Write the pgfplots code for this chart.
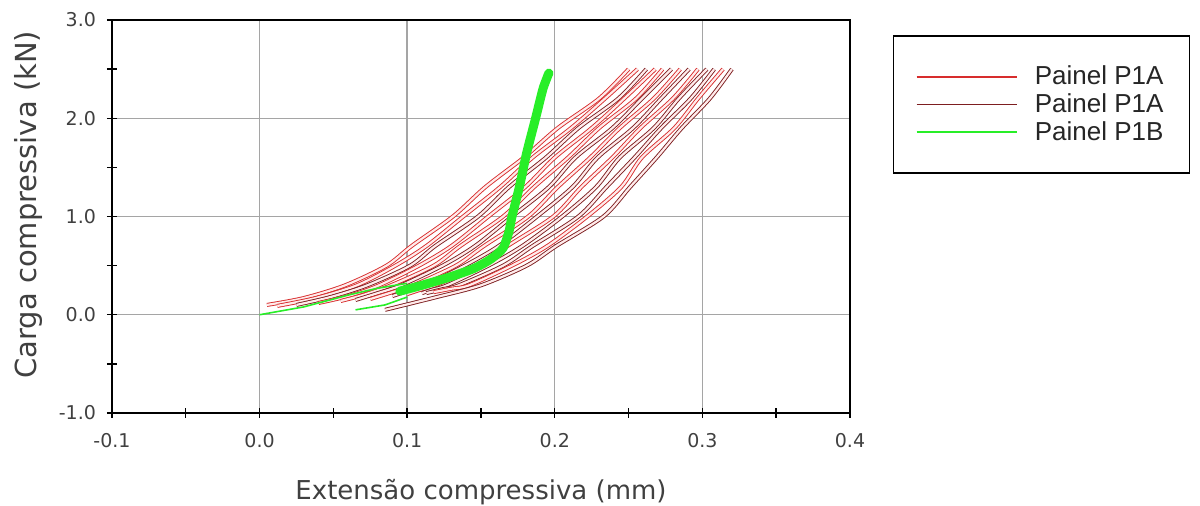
\documentclass[border=0pt]{standalone}
\usepackage{fontspec}
\setmainfont{DejaVu Sans}
\newfontfamily\arialf{Liberation Sans}
\usepackage{pgfplots}
\pgfplotsset{compat=1.18}
\definecolor{redA}{RGB}{215,45,45}
\definecolor{redB}{RGB}{125,30,32}
\definecolor{grnB}{RGB}{40,238,40}
\definecolor{gridc}{RGB}{165,165,165}
\tikzset{
  cycA/.style={draw=redA, line width=0.45pt, double=red!8, double distance=1.1pt, line join=round},
  cycB/.style={draw=redB, line width=0.45pt, double=red!8, double distance=1.1pt, line join=round},
}
\begin{document}
\begin{tikzpicture}
\useasboundingbox (-56pt,-46.5pt) rectangle (544pt,206.5pt);
\begin{axis}[
  scale only axis, width=369pt, height=196.5pt,
  xmin=-0.1, xmax=0.4, ymin=-1, ymax=3,
  xtick={-0.1,0,0.1,0.2,0.3,0.4}, ytick={-1,0,1,2,3},
  minor x tick num=1, minor y tick num=1,
  xtick pos=left, ytick pos=left,
  tick align=center, major tick length=5pt, minor tick length=5pt,
  grid=major, major grid style={gridc, line width=0.7pt},
  axis line style={black, line width=0.8pt},
  every tick/.style={black, line width=0.7pt},
  /pgf/number format/assume math mode=true,
  xticklabel style={/pgf/number format/fixed, /pgf/number format/fixed zerofill, /pgf/number format/precision=1, font=\fontsize{9.5}{11}\selectfont, text=black!75, yshift=-4pt},
  yticklabel style={/pgf/number format/fixed, /pgf/number format/fixed zerofill, /pgf/number format/precision=1, font=\fontsize{9.5}{11}\selectfont, text=black!75, xshift=-2pt},
  xlabel={Extensão compressiva (mm)},
  ylabel={Carga compressiva (kN)},
  xlabel style={at={(axis description cs:0.5,-0.201)}, anchor=center, font=\fontsize{13}{15}\selectfont, text=black!75},
  ylabel style={at={(axis description cs:-0.1138,0.53)}, anchor=center, font=\fontsize{14.5}{16}\selectfont, text=black!75},
  legend style={at={(1.058,0.962)}, anchor=north west, draw=black, line width=0.8pt, inner xsep=11pt, inner ysep=13pt, font=\arialf\fontsize{13}{13.5}\selectfont, text=black!85, row sep=-1pt,
    /tikz/every odd column/.append style={column sep=6.7pt}},
  legend cell align=left,
  legend image code/.code={\draw[#1] (0pt,0pt) -- (50pt,0pt);},
]
% Painel P1A cycles
\addplot[cycA, smooth, tension=0.5, forget plot] coordinates {(0.005,0.10)(0.03,0.17)(0.058,0.30)(0.086,0.50)(0.103,0.70)(0.131,1.00)(0.153,1.30)(0.179,1.60)(0.202,1.90)(0.230,2.20)(0.250,2.50)};
\addplot[cycA, smooth, tension=0.5, forget plot] coordinates {(0.012,0.09)(0.038,0.17)(0.066,0.30)(0.092,0.50)(0.113,0.70)(0.138,1.00)(0.163,1.30)(0.185,1.60)(0.211,1.90)(0.234,2.20)(0.256,2.50)};
\addplot[cycB, smooth, tension=0.5, forget plot] coordinates {(0.025,0.10)(0.048,0.18)(0.073,0.30)(0.102,0.50)(0.119,0.70)(0.148,1.00)(0.169,1.30)(0.194,1.60)(0.216,1.90)(0.243,2.20)(0.262,2.50)};
\addplot[cycA, smooth, tension=0.5, forget plot] coordinates {(0.04,0.12)(0.06,0.19)(0.081,0.30)(0.108,0.50)(0.130,0.70)(0.155,1.00)(0.180,1.30)(0.200,1.60)(0.225,1.90)(0.247,2.20)(0.268,2.50)};
\addplot[cycA, smooth, tension=0.5, forget plot] coordinates {(0.055,0.14)(0.07,0.20)(0.089,0.30)(0.118,0.50)(0.136,0.70)(0.165,1.00)(0.186,1.30)(0.209,1.60)(0.230,1.90)(0.255,2.20)(0.273,2.50)};
\addplot[cycB, smooth, tension=0.5, forget plot] coordinates {(0.065,0.15)(0.08,0.22)(0.096,0.30)(0.124,0.50)(0.146,0.70)(0.171,1.00)(0.196,1.30)(0.214,1.60)(0.239,1.90)(0.259,2.20)(0.279,2.50)};
\addplot[cycA, smooth, tension=0.5, forget plot] coordinates {(0.075,0.16)(0.09,0.23)(0.104,0.30)(0.133,0.50)(0.152,0.70)(0.182,1.00)(0.202,1.30)(0.224,1.60)(0.244,1.90)(0.267,2.20)(0.285,2.50)};
\addplot[cycB, smooth, tension=0.5, forget plot] coordinates {(0.09,0.19)(0.10,0.24)(0.112,0.30)(0.139,0.50)(0.162,0.70)(0.188,1.00)(0.212,1.30)(0.229,1.60)(0.253,1.90)(0.272,2.20)(0.291,2.50)};
\addplot[cycA, smooth, tension=0.5, forget plot] coordinates {(0.10,0.21)(0.108,0.25)(0.119,0.30)(0.149,0.50)(0.168,0.70)(0.199,1.00)(0.218,1.30)(0.239,1.60)(0.258,1.90)(0.280,2.20)(0.297,2.50)};
\addplot[cycB, smooth, tension=0.5, forget plot] coordinates {(0.11,0.22)(0.117,0.255)(0.127,0.30)(0.155,0.50)(0.178,0.70)(0.205,1.00)(0.228,1.30)(0.244,1.60)(0.267,1.90)(0.284,2.20)(0.303,2.50)};
\addplot[cycB, smooth, tension=0.5, forget plot] coordinates {(0.113,0.22)(0.124,0.26)(0.135,0.30)(0.165,0.50)(0.185,0.70)(0.216,1.00)(0.235,1.30)(0.254,1.60)(0.272,1.90)(0.292,2.20)(0.308,2.50)};
\addplot[cycA, smooth, tension=0.5, forget plot] coordinates {(0.118,0.23)(0.13,0.265)(0.142,0.30)(0.171,0.50)(0.195,0.70)(0.222,1.00)(0.245,1.30)(0.259,1.60)(0.281,1.90)(0.297,2.20)(0.314,2.50)};
\addplot[cycB, smooth, tension=0.5, forget plot] coordinates {(0.085,0.05)(0.12,0.18)(0.150,0.30)(0.181,0.50)(0.201,0.70)(0.233,1.00)(0.251,1.30)(0.269,1.60)(0.286,1.90)(0.305,2.20)(0.320,2.50)};
% Painel P1B
\addplot[grnB, line width=0.8pt, forget plot] coordinates {(0,0)(0.03,0.08)(0.06,0.20)(0.08,0.27)(0.10,0.32)};
\addplot[grnB, line width=0.8pt, forget plot] coordinates {(0.065,0.05)(0.085,0.10)(0.10,0.18)};
\addplot[grnB, line width=4.5pt, line join=round, line cap=round, smooth, tension=0.4, forget plot] coordinates {(0.095,0.24)(0.11,0.30)(0.128,0.38)(0.145,0.47)(0.157,0.57)(0.165,0.68)(0.169,0.85)(0.171,1.00)(0.176,1.30)(0.181,1.65)(0.187,2.00)(0.192,2.30)(0.196,2.46)};
\addlegendimage{redA, line width=0.9pt}
\addlegendentry{Painel P1A}
\addlegendimage{redB, line width=0.9pt}
\addlegendentry{Painel P1A}
\addlegendimage{grnB, line width=0.9pt}
\addlegendentry{Painel P1B}
\end{axis}
\end{tikzpicture}
\end{document}
